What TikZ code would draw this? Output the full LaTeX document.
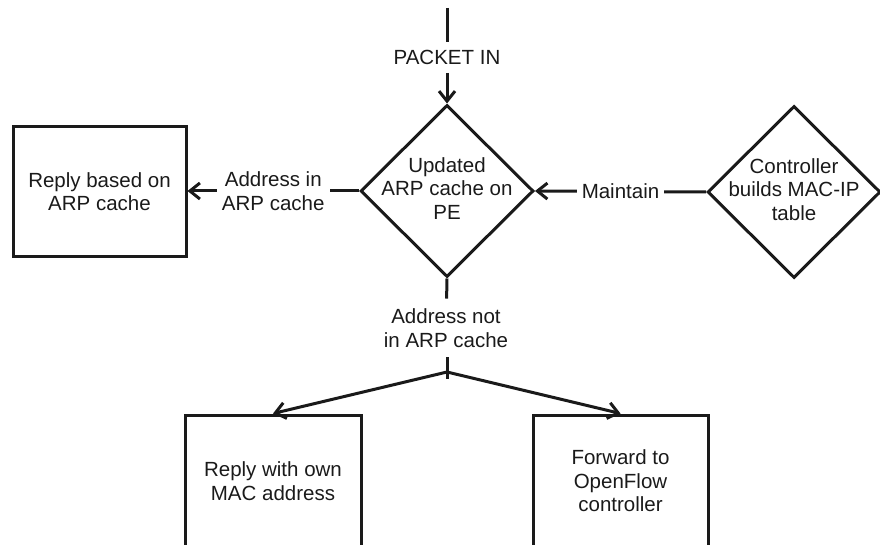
\documentclass[tikz,border=0pt]{standalone}
\usepackage{fontspec}
\setmainfont{Liberation Sans}
\usetikzlibrary{shapes.geometric,arrows.meta}
\definecolor{ink}{HTML}{1A1A1A}
\begin{document}
\begin{tikzpicture}[x=1pt,y=-1pt,
  every node/.style={font=\fontsize{20.5}{23.5}\selectfont, text=ink},
  ln/.style={draw=ink, line width=3pt},
  arr/.style={ln, -{Straight Barb[length=10pt,width=16pt]}},
  box/.style={ln, rectangle, minimum width=#1, align=center, inner sep=0pt},
  dia/.style={ln, diamond, minimum width=173pt, minimum height=172pt, inner sep=0pt},
  lbl/.style={align=center, inner xsep=5pt, inner ysep=8pt}
]
\useasboundingbox (0,0) rectangle (880,545);

% shapes
\node[dia] (d1) at (447,191) {\makebox[0pt]{\begin{tabular}{@{}c@{}}Updated\\ARP cache on\\PE\end{tabular}}};
\node[dia] (d2) at (794,192) {\makebox[0pt]{\begin{tabular}{@{}c@{}}Controller\\builds MAC-IP\\table\end{tabular}}};
\node[box=173pt, minimum height=130pt] (b1) at (99.5,191.5) {Reply based on\\ARP cache};
\node[box=176pt, minimum height=132pt] (b2) at (273,481) {Reply with own\\MAC address};
\node[box=175pt, minimum height=132pt] (b3) at (620.5,481) {Forward to\\OpenFlow\\controller};

% incoming packet
\coordinate (top) at (447,8);
\node[lbl] (pk) at (447,57.5) {PACKET IN};
\draw[ln] (top) -- (pk);
\draw[arr] (pk) -- (d1.north);

% address in cache
\draw[arr] (d1.west) -- node[lbl, fill=white] (la) {Address in\\ARP cache} (d1.west -| b1.east);

% maintain
\draw[arr] (d2.west) -- node[lbl, fill=white] (lm) {Maintain} (d1.east);

% address not in cache
\node[lbl, inner ysep=10pt] (ln3) at (446,328) {Address not\\in ARP cache};
\draw[ln] (d1.south) -- (ln3);
\coordinate (j) at (447,372);
\coordinate (tick) at (447,379);
\draw[ln] (ln3.south -| j) -- (tick);
\draw[arr] (j) -- (b2.north);
\draw[arr] (j) -- (b3.north);
\end{tikzpicture}
\end{document}
